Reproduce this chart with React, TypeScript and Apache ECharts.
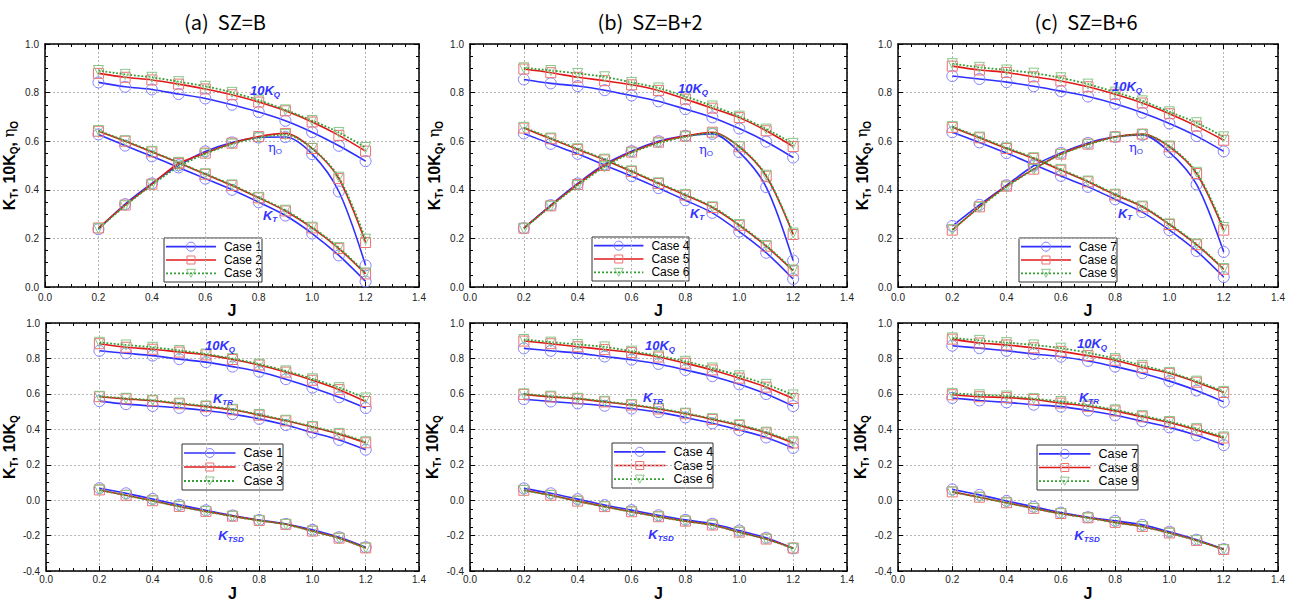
import React, { useEffect, useRef } from "react";
import * as echarts from "echarts";

// ---------- data ----------
const J = [0.2, 0.3, 0.4, 0.5, 0.6, 0.7, 0.8, 0.9, 1.0, 1.1, 1.2];
const xTicks = [0, 0.2, 0.4, 0.6, 0.8, 1.0, 1.2, 1.4];
const titles = ["(a)  SZ=B", "(b)  SZ=B+2", "(c)  SZ=B+6"];
const casesA = ["Case 1", "Case 2", "Case 3"];
const casesB = ["Case 4", "Case 5", "Case 6"];
const casesC = ["Case 7", "Case 8", "Case 9"];

// (a) top: 10KQ, KT, etaO
const aKQ1 = [0.842, 0.824, 0.813, 0.794, 0.776, 0.75, 0.72, 0.684, 0.637, 0.581, 0.518];
const aKQ2 = [0.879, 0.863, 0.852, 0.835, 0.815, 0.791, 0.761, 0.725, 0.679, 0.624, 0.559];
const aKQ3 = [0.891, 0.875, 0.863, 0.845, 0.826, 0.801, 0.769, 0.729, 0.685, 0.636, 0.574];
const aKT1 = [0.628, 0.582, 0.538, 0.492, 0.446, 0.4, 0.349, 0.294, 0.22, 0.13, 0.023];
const aKT2 = [0.641, 0.6, 0.556, 0.511, 0.464, 0.418, 0.367, 0.313, 0.243, 0.158, 0.054];
const aKT3 = [0.644, 0.602, 0.558, 0.513, 0.466, 0.42, 0.369, 0.316, 0.246, 0.162, 0.058];
const aEta1 = [0.238, 0.341, 0.426, 0.501, 0.558, 0.595, 0.615, 0.617, 0.547, 0.393, 0.089];
const aEta2 = [0.243, 0.337, 0.423, 0.508, 0.551, 0.592, 0.619, 0.632, 0.57, 0.446, 0.183];
const aEta3 = [0.24, 0.334, 0.42, 0.495, 0.548, 0.588, 0.614, 0.627, 0.571, 0.452, 0.197];
// (a) bottom: 10KQ, KTR, KTSD
const aQ1 = [0.843, 0.829, 0.816, 0.796, 0.779, 0.754, 0.725, 0.683, 0.635, 0.581, 0.52];
const aQ2 = [0.883, 0.863, 0.852, 0.836, 0.82, 0.794, 0.763, 0.723, 0.677, 0.624, 0.557];
const aQ3 = [0.891, 0.876, 0.863, 0.845, 0.825, 0.799, 0.768, 0.73, 0.685, 0.635, 0.577];
const aTR1 = [0.559, 0.542, 0.532, 0.521, 0.506, 0.486, 0.459, 0.424, 0.382, 0.34, 0.285];
const aTR2 = [0.584, 0.572, 0.561, 0.544, 0.528, 0.51, 0.48, 0.448, 0.413, 0.373, 0.324];
const aTR3 = [0.586, 0.575, 0.564, 0.548, 0.532, 0.513, 0.484, 0.451, 0.416, 0.377, 0.33];
const aSD1 = [0.068, 0.039, 0.007, -0.026, -0.057, -0.086, -0.112, -0.134, -0.167, -0.209, -0.265];
const aSD2 = [0.058, 0.028, -0.003, -0.035, -0.063, -0.09, -0.114, -0.136, -0.174, -0.214, -0.269];
const aSD3 = [0.057, 0.027, -0.004, -0.036, -0.064, -0.091, -0.115, -0.137, -0.175, -0.215, -0.27];

// (b) top
const bKQ4 = [0.854, 0.838, 0.827, 0.81, 0.788, 0.764, 0.732, 0.698, 0.652, 0.598, 0.533];
const bKQ5 = [0.897, 0.882, 0.863, 0.849, 0.832, 0.809, 0.773, 0.736, 0.697, 0.643, 0.578];
const bKQ6 = [0.902, 0.891, 0.879, 0.865, 0.842, 0.819, 0.784, 0.745, 0.703, 0.65, 0.591];
const bKT4 = [0.632, 0.589, 0.548, 0.501, 0.456, 0.407, 0.357, 0.305, 0.228, 0.141, 0.033];
const bKT5 = [0.654, 0.61, 0.566, 0.523, 0.475, 0.426, 0.378, 0.327, 0.254, 0.168, 0.067];
const bKT6 = [0.657, 0.613, 0.569, 0.526, 0.478, 0.429, 0.381, 0.33, 0.257, 0.171, 0.07];
const bEta4 = [0.242, 0.337, 0.426, 0.505, 0.559, 0.6, 0.622, 0.63, 0.555, 0.411, 0.109];
const bEta5 = [0.242, 0.334, 0.422, 0.5, 0.555, 0.596, 0.621, 0.637, 0.577, 0.456, 0.216];
const bEta6 = [0.24, 0.332, 0.418, 0.495, 0.552, 0.592, 0.618, 0.633, 0.578, 0.46, 0.222];
// (b) bottom
const bQ4 = [0.857, 0.843, 0.83, 0.811, 0.793, 0.769, 0.735, 0.7, 0.654, 0.599, 0.531];
const bQ5 = [0.898, 0.883, 0.866, 0.85, 0.833, 0.808, 0.773, 0.735, 0.689, 0.638, 0.574];
const bQ6 = [0.907, 0.892, 0.879, 0.865, 0.841, 0.815, 0.784, 0.746, 0.702, 0.654, 0.594];
const bTR4 = [0.57, 0.557, 0.546, 0.533, 0.517, 0.497, 0.467, 0.434, 0.396, 0.354, 0.295];
const bTR5 = [0.597, 0.583, 0.572, 0.555, 0.537, 0.515, 0.488, 0.456, 0.422, 0.38, 0.323];
const bTR6 = [0.6, 0.587, 0.575, 0.558, 0.54, 0.518, 0.491, 0.46, 0.426, 0.384, 0.33];
const bSD4 = [0.067, 0.039, 0.006, -0.027, -0.056, -0.085, -0.111, -0.133, -0.171, -0.212, -0.272];
const bSD5 = [0.056, 0.028, -0.005, -0.036, -0.065, -0.093, -0.118, -0.14, -0.18, -0.219, -0.27];
const bSD6 = [0.055, 0.027, -0.006, -0.037, -0.066, -0.094, -0.119, -0.141, -0.181, -0.22, -0.272];

// (c) top
const cKQ7 = [0.868, 0.856, 0.843, 0.826, 0.806, 0.784, 0.754, 0.717, 0.673, 0.621, 0.558];
const cKQ8 = [0.909, 0.893, 0.883, 0.865, 0.848, 0.824, 0.793, 0.757, 0.713, 0.662, 0.604];
const cKQ9 = [0.919, 0.904, 0.893, 0.88, 0.861, 0.835, 0.802, 0.766, 0.721, 0.676, 0.618];
const cKT7 = [0.637, 0.595, 0.551, 0.504, 0.457, 0.412, 0.361, 0.308, 0.234, 0.148, 0.041];
const cKT8 = [0.657, 0.614, 0.57, 0.529, 0.481, 0.433, 0.379, 0.33, 0.257, 0.174, 0.073];
const cKT9 = [0.66, 0.617, 0.573, 0.532, 0.484, 0.436, 0.382, 0.333, 0.26, 0.177, 0.076];
const cEta7 = [0.251, 0.338, 0.419, 0.499, 0.552, 0.593, 0.618, 0.626, 0.555, 0.422, 0.144];
const cEta8 = [0.234, 0.33, 0.415, 0.485, 0.547, 0.588, 0.618, 0.629, 0.577, 0.467, 0.234];
const cEta9 = [0.236, 0.328, 0.412, 0.485, 0.545, 0.586, 0.616, 0.628, 0.58, 0.472, 0.245];
// (c) bottom
const cQ7 = [0.872, 0.858, 0.843, 0.825, 0.81, 0.786, 0.754, 0.717, 0.672, 0.619, 0.555];
const cQ8 = [0.909, 0.887, 0.876, 0.86, 0.84, 0.816, 0.79, 0.75, 0.716, 0.666, 0.608];
const cQ9 = [0.916, 0.902, 0.889, 0.876, 0.858, 0.832, 0.799, 0.761, 0.721, 0.672, 0.614];
const cTR7 = [0.577, 0.563, 0.552, 0.539, 0.528, 0.506, 0.479, 0.446, 0.411, 0.366, 0.311];
const cTR8 = [0.595, 0.584, 0.579, 0.568, 0.548, 0.53, 0.504, 0.471, 0.439, 0.397, 0.351];
const cTR9 = [0.603, 0.595, 0.588, 0.573, 0.557, 0.537, 0.51, 0.477, 0.444, 0.404, 0.357];
const cSD7 = [0.061, 0.03, -0.004, -0.037, -0.07, -0.096, -0.116, -0.139, -0.178, -0.223, -0.276];
const cSD8 = [0.047, 0.017, -0.014, -0.046, -0.075, -0.099, -0.125, -0.148, -0.185, -0.227, -0.278];
const cSD9 = [0.046, 0.016, -0.015, -0.047, -0.076, -0.1, -0.126, -0.149, -0.186, -0.228, -0.279];

// ---------- styling ----------
const TRI_DOWN = "path://M0,0L10,0L5,9Z";
const STY: any[] = [
  { line: "#2f2fff", marker: "#8282ff", symbol: "circle", size: 11, type: "solid", width: 1.6 },
  { line: "#e01818", marker: "#ee7272", symbol: "rect", size: 10, type: "solid", width: 1.6 },
  { line: "#33a033", marker: "#88c888", symbol: TRI_DOWN, size: 10, type: "dotted", dash: [2, 2], width: 1.8 },
];

const FONT = "'Liberation Sans', Arial, sans-serif";
const BLUE = "#3333ff";

type Panel = {
  grid: { left: number; top: number; width: number; height: number };
  ymin: number;
  top: boolean;
  cases: string[];
  curves: number[][][];
  legend: { left: number; top: number; width: number; height: number; font: number };
};

const panels: Panel[] = [
  { grid: { left: 44, top: 44, width: 375, height: 243 }, ymin: 0, top: true, cases: casesA,
    curves: [[aKQ1, aKQ2, aKQ3], [aKT1, aKT2, aKT3], [aEta1, aEta2, aEta3]],
    legend: { left: 164, top: 238, width: 98, height: 44, font: 12 } },
  { grid: { left: 470, top: 44, width: 377, height: 243 }, ymin: 0, top: true, cases: casesB,
    curves: [[bKQ4, bKQ5, bKQ6], [bKT4, bKT5, bKT6], [bEta4, bEta5, bEta6]],
    legend: { left: 592, top: 237, width: 97, height: 44, font: 12 } },
  { grid: { left: 898, top: 44, width: 380, height: 243 }, ymin: 0, top: true, cases: casesC,
    curves: [[cKQ7, cKQ8, cKQ9], [cKT7, cKT8, cKT9], [cEta7, cEta8, cEta9]],
    legend: { left: 1019, top: 238, width: 98, height: 44, font: 12 } },
  { grid: { left: 44, top: 323, width: 375, height: 256 }, ymin: -0.4, top: false, cases: casesA,
    curves: [[aQ1, aQ2, aQ3], [aTR1, aTR2, aTR3], [aSD1, aSD2, aSD3]],
    legend: { left: 182, top: 444, width: 101, height: 46, font: 12.5 } },
  { grid: { left: 470, top: 323, width: 377, height: 255 }, ymin: -0.4, top: false, cases: casesB,
    curves: [[bQ4, bQ5, bQ6], [bTR4, bTR5, bTR6], [bSD4, bSD5, bSD6]],
    legend: { left: 612, top: 443, width: 101, height: 45, font: 12.5 } },
  { grid: { left: 898, top: 323, width: 380, height: 256 }, ymin: -0.4, top: false, cases: casesC,
    curves: [[cQ7, cQ8, cQ9], [cTR7, cTR8, cTR9], [cSD7, cSD8, cSD9]],
    legend: { left: 1037, top: 445, width: 101, height: 45, font: 12.5 } },
];

const fmt = (v: number) => v.toFixed(1);

function legendGroup(p: Panel) {
  const L = p.legend;
  const children: any[] = [
    { type: "rect", shape: { x: 0, y: 0, width: L.width, height: L.height },
      style: { fill: "#fff", stroke: "#333", lineWidth: 1 } },
  ];
  const rowH = (L.height - 4) / 3;
  const lineEnd = L.width * 0.53;
  const mx = lineEnd / 2 + 1;
  p.cases.forEach((name, i) => {
    const s = STY[i];
    const y = 2 + rowH * (i + 0.5);
    const ls: any = { stroke: s.line, lineWidth: s.width };
    if (s.dash) ls.lineDash = s.dash;
    children.push({ type: "line", shape: { x1: 2, y1: y, x2: lineEnd, y2: y }, style: ls });
    const ms = { fill: "none", stroke: s.marker, lineWidth: 1 };
    if (i === 0) children.push({ type: "circle", shape: { cx: mx, cy: y, r: 4.5 }, style: ms });
    else if (i === 1) children.push({ type: "rect", shape: { x: mx - 4, y: y - 4, width: 8, height: 8 }, style: ms });
    else children.push({ type: "polygon", shape: { points: [[mx - 4.5, y - 4], [mx + 4.5, y - 4], [mx, y + 4]] }, style: ms });
    children.push({
      type: "text", x: lineEnd + 8, y,
      style: { text: name, fill: "#000", fontSize: L.font, fontFamily: FONT, verticalAlign: "middle", align: "left" },
    });
  });
  return { type: "group", x: L.left, y: L.top, z: 60, silent: true, children };
}

function buildOption() {
  const grid: any[] = [];
  const xAxis: any[] = [];
  const yAxis: any[] = [];
  const series: any[] = [];

  panels.forEach((p, gi) => {
    grid.push({ ...p.grid, containLabel: false, show: false });
    const tick = { inside: true, length: 5, lineStyle: { color: "#000", width: 1 } };
    const minor = { show: true, splitNumber: 4, length: 3, lineStyle: { color: "#000", width: 1 } };
    const split = { show: true, lineStyle: { color: "#b4b4b4", type: [2, 2], width: 1 } };
    const line = { show: true, onZero: false, lineStyle: { color: "#000", width: 1.5 } };
    xAxis.push({
      gridIndex: gi, type: "value", min: xTicks[0], max: xTicks[xTicks.length - 1], interval: 0.2, position: "bottom",
      axisLine: line, axisTick: tick, minorTick: minor, splitLine: split,
      axisLabel: { formatter: fmt, fontSize: 10, color: "#222", margin: p.top ? 5 : 3, fontFamily: FONT },
      name: "J", nameLocation: "middle", nameGap: p.top ? 11 : 4,
      nameTextStyle: { fontWeight: "bold", fontSize: 16, color: "#000", fontFamily: FONT },
    });
    xAxis.push({
      gridIndex: gi, type: "value", min: 0, max: 1.4, interval: 0.2, position: "top",
      axisLine: line, axisTick: tick, minorTick: minor, splitLine: { show: false }, axisLabel: { show: false },
    });
    const yName = p.top
      ? "{m|K}{s|T}{m|, 10K}{s|Q}{m|, }{g|η}{s|O}"
      : "{m|K}{s|T}{m|, 10K}{s|Q}";
    yAxis.push({
      gridIndex: gi, type: "value", min: p.ymin, max: 1.0, interval: 0.2, position: "left",
      axisLine: line, axisTick: tick, minorTick: minor, splitLine: split,
      axisLabel: { formatter: fmt, fontSize: 10, color: "#222", margin: 6, fontFamily: FONT },
      name: yName, nameLocation: "middle", nameGap: 26, nameRotate: 90,
      nameTextStyle: {
        rich: {
          m: { fontSize: 16, fontWeight: "bold", color: "#000", lineHeight: 20, fontFamily: FONT },
          s: { fontSize: 10, fontWeight: "bold", color: "#000", lineHeight: 8, verticalAlign: "bottom", fontFamily: FONT },
          g: { fontSize: 15, color: "#000", lineHeight: 20, fontFamily: "'DejaVu Serif', serif" },
        },
      },
    });
    yAxis.push({
      gridIndex: gi, type: "value", min: p.ymin, max: 1.0, interval: 0.2, position: "right",
      axisLine: line, axisTick: tick, minorTick: minor, splitLine: { show: false }, axisLabel: { show: false },
    });

    p.curves.forEach((group) => {
      group.forEach((ys, ci) => {
        const s = STY[ci];
        series.push({
          type: "line", name: p.cases[ci], xAxisIndex: gi * 2, yAxisIndex: gi * 2,
          data: J.map((x, i) => [x, ys[i]]),
          smooth: 0.3, symbol: s.symbol, symbolSize: s.size,
          lineStyle: { color: s.line, width: s.width, type: s.type },
          itemStyle: { color: "rgba(255,255,255,0)", borderColor: s.marker, borderWidth: 1 },
          emphasis: { disabled: true }, silent: true, z: 3 + ci,
        });
      });
    });
  });

  const rich = {
    m: { fontSize: 13, fontWeight: "bold", fontStyle: "italic", fill: BLUE, lineHeight: 16, fontFamily: FONT },
    s: { fontSize: 8, fontWeight: "bold", fontStyle: "italic", fill: BLUE, lineHeight: 6, verticalAlign: "bottom", fontFamily: FONT },
    g: { fontSize: 13, fill: BLUE, lineHeight: 16, fontFamily: "'DejaVu Serif', serif" },
    t: { fontSize: 8, fill: BLUE, lineHeight: 6, verticalAlign: "bottom", fontFamily: FONT },
  };
  const ann = (x: number, y: number, text: string) => ({
    type: "text", x, y, silent: true, z: 50,
    style: { text, align: "center", verticalAlign: "middle", rich },
  });
  const titleEl = (x: number, text: string) => ({
    type: "text", x, y: 21, silent: true,
    style: { text, align: "center", verticalAlign: "middle", fill: "#000", fontSize: 20, fontFamily: "'Noto Sans CJK KR', 'Noto Sans', sans-serif" },
  });

  const graphic = [
    titleEl(225, titles[0]), titleEl(650, titles[1]), titleEl(1086, titles[2]),
    ann(265, 90, "{m|10K}{s|Q}"), ann(275, 147, "{g|η}{t|O}"), ann(270, 215, "{m|K}{s|T}"),
    ann(693, 88, "{m|10K}{s|Q}"), ann(706, 149, "{g|η}{t|O}"), ann(697, 213, "{m|K}{s|T}"),
    ann(1127, 86, "{m|10K}{s|Q}"), ann(1136, 147, "{g|η}{t|O}"), ann(1125, 213, "{m|K}{s|T}"),
    ann(220, 345, "{m|10K}{s|Q}"), ann(223, 398, "{m|K}{s|TR}"), ann(231, 535, "{m|K}{s|TSD}"),
    ann(660, 345, "{m|10K}{s|Q}"), ann(653, 397, "{m|K}{s|TR}"), ann(661, 534, "{m|K}{s|TSD}"),
    ann(1092, 343, "{m|10K}{s|Q}"), ann(1089, 397, "{m|K}{s|TR}"), ann(1087, 535, "{m|K}{s|TSD}"),
    ...panels.map(legendGroup),
  ];

  return {
    animation: false,
    backgroundColor: "#fff",
    grid, xAxis, yAxis, series, graphic,
  };
}

export default function App() {
  const ref = useRef<HTMLDivElement>(null);
  useEffect(() => {
    if (!ref.current) return;
    const chart = echarts.init(ref.current, undefined, { renderer: "svg" });
    chart.setOption(buildOption() as any);
    return () => chart.dispose();
  }, []);
  return (
    <div
      ref={ref}
      style={{ position: "absolute", left: 0, top: 0, width: 1296, height: 602, background: "#fff" }}
    />
  );
}
